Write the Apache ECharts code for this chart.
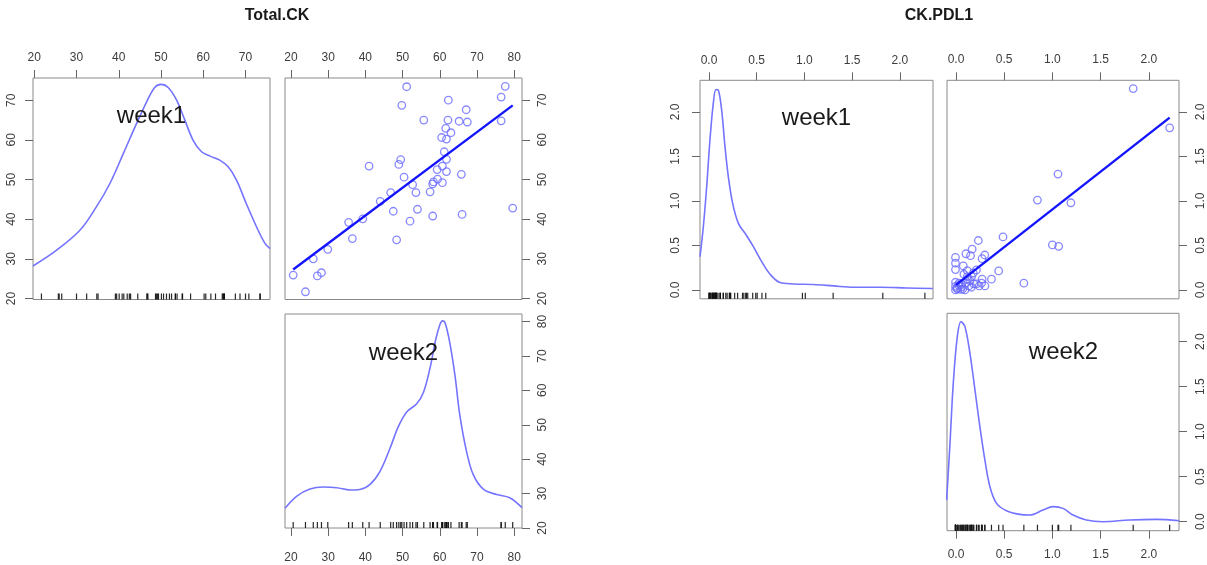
<!DOCTYPE html>
<html><head><meta charset="utf-8">
<script src="https://cdn.jsdelivr.net/npm/echarts@6/dist/echarts.min.js"></script>
<style>html,body{margin:0;padding:0;background:#fff}#c{width:1207px;height:565px}</style>
</head><body><div id="c"></div>
<script>
// ---------------- Total.CK (left matrix) ----------------
const totalTitle = 'Total.CK';
const totalWeek2 = [20.6,23.9,26.0,27.1,28.2,29.9,35.5,36.5,39.3,41.0,44.0,46.8,47.5,48.4,49.0,49.5,49.8,50.4,51.1,52.0,52.7,53.6,54.0,55.7,57.4,58.1,58.1,58.3,59.3,59.4,60.5,60.7,60.7,61.2,61.6,61.8,61.8,61.8,62.2,62.3,63.0,65.2,65.8,66.0,67.1,67.4,76.5,76.5,77.6,79.6];
const totalWeek1 = [25.9,21.7,30.0,25.7,26.5,32.4,39.2,35.1,40.1,53.4,44.5,46.7,42.0,34.8,53.8,55.0,68.7,50.6,73.4,39.5,48.7,46.7,42.5,65.0,46.9,40.8,48.9,49.4,52.5,50.1,60.6,49.2,53.4,57.0,62.9,55.1,60.2,52.0,65.0,70.0,61.8,64.7,51.3,41.2,67.6,64.5,70.8,64.8,73.5,42.8];
const totalFit = [[20.6,27.3],[79.6,68.7]];
const totalDensW1 = [[19.7,28.2],[25.3,32.2],[30.8,37.2],[34.7,43.1],[37.9,49.0],[41.1,56.6],[44.2,64.1],[46.6,69.6],[48.5,73.2],[50.0,74.0],[51.7,73.2],[53.7,70.0],[55.6,65.1],[57.6,59.9],[59.6,57.0],[61.6,55.9],[63.9,54.9],[65.9,53.2],[67.9,49.8],[70.2,43.9],[72.6,38.1],[74.6,33.9],[75.8,32.6]];
const totalDensW2 = [[18.4,25.7],[21.5,29.2],[25.1,31.3],[28.7,31.9],[32.3,31.7],[35.9,31.05],[38.5,31.2],[41.2,32.6],[43.9,36.4],[46.6,43.1],[48.8,49.3],[51.1,53.7],[53.8,56.1],[55.6,59.4],[57.3,66.1],[58.9,74.7],[60.0,79.0],[60.7,80.2],[61.4,79.7],[62.7,73.8],[64.1,64.2],[65.4,52.7],[67.2,42.2],[69.0,35.5],[71.7,31.3],[75.3,29.7],[78.8,28.8],[82.1,25.9]];
const totalTicksW1 = [20,30,40,50,60,70];
const totalTicksW2 = [20,30,40,50,60,70,80];

// ---------------- CK.PDL1 (right matrix) ----------------
const pdlTitle = 'CK.PDL1';
const pdlWeek2 = [1.838,2.216,1.058,0.845,1.192,1.0,1.065,0.704,0.488,0.443,0.368,0.232,0.299,0.271,0.168,0.151,0.103,0.213,0.271,0.265,0.241,0.186,0.162,0.117,0.076,-0.005,-0.005,-0.005,-0.005,-0.005,-0.005,0.024,0.048,0.093,0.117,0.134,0.103,0.034,0.062,0.213,0.082,0.144,0.010,0.055,0.120,0.180,0.015,0.300,0.160,0.070];
const pdlWeek1 = [2.262,1.821,1.301,1.009,0.979,0.505,0.490,0.075,0.595,0.213,0.120,0.555,0.392,0.351,0.458,0.385,0.406,0.224,0.120,0.075,0.045,0.067,0.150,0.217,0.269,0.365,0.300,0.228,0.086,0.040,0.0,0.056,0.007,0.0,0.150,0.045,0.075,0.075,0.037,0.067,0.176,0.105,0.020,0.060,0.120,0.190,0.010,0.045,0.030,0.010];
const pdlFit = [[0.0,0.056],[2.216,1.936]];
const pdlDensW1 = [[-0.094,0.374],[-0.059,0.71],[-0.024,1.159],[0.010,1.682],[0.045,2.093],[0.073,2.25],[0.098,2.243],[0.133,2.019],[0.168,1.607],[0.203,1.271],[0.248,0.972],[0.308,0.748],[0.378,0.636],[0.465,0.486],[0.552,0.318],[0.64,0.176],[0.745,0.082],[0.885,0.067],[1.094,0.06],[1.304,0.045],[1.514,0.03],[1.794,0.03],[2.073,0.022],[2.346,0.015]];
const pdlDensW2 = [[-0.097,0.24],[-0.062,0.87],[-0.028,1.537],[0.014,2.056],[0.052,2.222],[0.093,2.167],[0.145,1.87],[0.197,1.463],[0.248,1.056],[0.3,0.685],[0.352,0.389],[0.421,0.204],[0.524,0.122],[0.662,0.081],[0.766,0.074],[0.903,0.13],[1.007,0.167],[1.11,0.148],[1.214,0.074],[1.352,0.019],[1.524,0.0],[1.8,0.019],[2.076,0.026],[2.317,0.011]];
const pdlTicks = [0,0.5,1,1.5,2];

const diagLabels = ['week1','week2'];

// ---------------- styles / layout ----------------
const FONT = 'Liberation Sans, Arial, sans-serif';
const densColor = '#7474ff';
const ptColor = '#6a6aff';
const fitColor = '#1414ff';
const boxColor = '#8a8a8a';
const labColor = '#3c3c3c';

const grids = [
  {left:33,  top:78,   width:237, height:221.5},  // 0 Total week1 density
  {left:285, top:78,   width:237, height:221.5},  // 1 Total scatter
  {left:285, top:314,  width:237, height:214},    // 2 Total week2 density
  {left:700, top:80.3, width:233, height:218.5},  // 3 PDL week1 density
  {left:947, top:80.3, width:233, height:218.5},  // 4 PDL scatter
  {left:947, top:313.3,width:233, height:217.4}   // 5 PDL week2 density
].map(g => Object.assign({show:true, borderColor:boxColor, borderWidth:1, backgroundColor:'transparent'}, g));

const fmtInt = v => String(Math.round(v));
const fmt1 = v => Number(v).toFixed(1);

function axis(gi, min, max, pos, ticks, fmt, margin, rotate){
  return {
    type:'value', gridIndex:gi, min:min, max:max, position:pos, scale:true,
    axisLine:{show:false, onZero:false},
    splitLine:{show:false},
    axisTick:{show:true, inside:false, length:8, customValues:ticks, lineStyle:{color:'#666', width:1}},
    axisLabel:{show:true, customValues:ticks, formatter:fmt, margin:margin, rotate:rotate||0,
      color:labColor, fontSize:12, fontFamily:FONT}
  };
}

const xAxis = [
  axis(0, 19.7, 75.8, 'top', totalTicksW1, fmtInt, 14),
  axis(1, 18.4, 82.1, 'top', totalTicksW2, fmtInt, 14),
  axis(2, 18.4, 82.1, 'bottom', totalTicksW2, fmtInt, 24),
  axis(3, -0.094, 2.347, 'top', pdlTicks, fmt1, 14),
  axis(4, -0.093, 2.313, 'top', pdlTicks, fmt1, 15),
  axis(5, -0.093, 2.313, 'bottom', pdlTicks, fmt1, 18)
];
const yAxis = [
  axis(0, 19.75, 75.6, 'left', totalTicksW1, fmtInt, 15, 90),
  axis(1, 19.75, 75.6, 'right', totalTicksW1, fmtInt, 15, 90),
  axis(2, 19.99, 82.2, 'right', totalTicksW2, fmtInt, 15, 90),
  axis(3, -0.10, 2.355, 'left', pdlTicks, fmt1, 18, 90),
  axis(4, -0.10, 2.355, 'right', pdlTicks, fmt1, 16, 90),
  axis(5, -0.10, 2.315, 'right', pdlTicks, fmt1, 16, 90)
];

function densSeries(gi, data){
  return {type:'line', xAxisIndex:gi, yAxisIndex:gi, data:data, smooth:0.35, showSymbol:false,
    lineStyle:{color:densColor, width:1.6}, silent:true, z:3};
}
function rugSeries(gi, values){
  const ymin = yAxis[gi].min;
  return {type:'scatter', xAxisIndex:gi, yAxisIndex:gi, data:values.map(v => [v, ymin]),
    symbol:'rect', symbolSize:[1.2,6], symbolOffset:[0,-3], clip:false,
    itemStyle:{color:'#111', opacity:0.9}, silent:true, z:2};
}
function pointSeries(gi, xs, ys){
  return {type:'scatter', xAxisIndex:gi, yAxisIndex:gi, data:xs.map((x,i) => [x, ys[i]]),
    symbol:'circle', symbolSize:7.5,
    itemStyle:{color:'rgba(255,255,255,0)', borderColor:ptColor, borderWidth:1.3}, silent:true, z:2};
}
function fitSeries(gi, data){
  return {type:'line', xAxisIndex:gi, yAxisIndex:gi, data:data, showSymbol:false,
    lineStyle:{color:fitColor, width:2.4}, silent:true, z:4};
}

const series = [
  densSeries(0, totalDensW1), rugSeries(0, totalWeek1),
  pointSeries(1, totalWeek2, totalWeek1), fitSeries(1, totalFit),
  densSeries(2, totalDensW2), rugSeries(2, totalWeek2),
  densSeries(3, pdlDensW1), rugSeries(3, pdlWeek1),
  pointSeries(4, pdlWeek2, pdlWeek1), fitSeries(4, pdlFit),
  densSeries(5, pdlDensW2), rugSeries(5, pdlWeek2)
];

function label(text, x, y, size, weight){
  return {type:'text', x:x, y:y, silent:true, z:10,
    style:{text:text, fill:'#1a1a1a', font:(weight||'normal')+' '+size+'px '+FONT, textAlign:'center', textVerticalAlign:'middle'}};
}
const graphic = [
  label(totalTitle, 277, 16, 16, 'bold'),
  label(pdlTitle, 939, 16, 16, 'bold'),
  label(diagLabels[0], 151.5, 116, 24),
  label(diagLabels[1], 403.5, 353, 24),
  label(diagLabels[0], 816.5, 118, 24),
  label(diagLabels[1], 1063.5, 352, 24)
];

const chart = echarts.init(document.getElementById('c'), null, {renderer:'canvas'});
chart.setOption({animation:false, backgroundColor:'#fff', grid:grids, xAxis:xAxis, yAxis:yAxis, series:series, graphic:graphic});
</script>
</body></html>
